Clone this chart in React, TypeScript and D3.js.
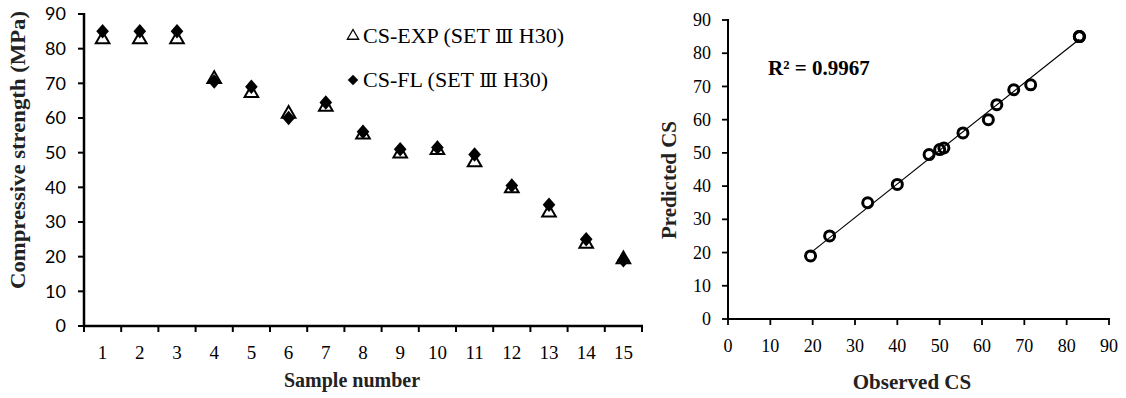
import React from "react";
import * as d3 from "d3";

const samples = [1, 2, 3, 4, 5, 6, 7, 8, 9, 10, 11, 12, 13, 14, 15];
const csExp = [83, 83, 83, 71.5, 67.5, 61.5, 63.5, 55.5, 50, 51, 47.5, 40, 33, 24, 19.5];
const csFl = [85, 85, 85, 70.5, 69, 60, 64.5, 56, 51, 51.5, 49.5, 40.5, 35, 25, 19];
const yTicks = [0, 10, 20, 30, 40, 50, 60, 70, 80, 90];
const xTicksRight = [0, 10, 20, 30, 40, 50, 60, 70, 80, 90];
const r2Label = "R² = 0.9967";
const legendExp = "CS-EXP (SET Ⅲ H30)";
const legendFl = "CS-FL (SET Ⅲ H30)";

const serif = "'Liberation Serif', 'Times New Roman', serif";
const sans = "Lato, 'Liberation Sans', sans-serif";

function Legend({ label, x, y }: { label: string; x: number; y: number }) {
  const parts = label.split("Ⅲ");
  return (
    <text x={x} y={y} fontFamily={serif} fontSize={22} fill="#000">
      {parts[0]}
      <tspan fontFamily="'DejaVu Serif', serif" fontSize={19}>Ⅲ</tspan>
      {parts[1]}
    </text>
  );
}

export default function App() {
  // Left chart
  const lx = d3.scaleBand<number>().domain(samples).range([84, 642]);
  const ly = d3.scaleLinear().domain([0, 90]).range([326, 14]);
  const tri = d3.symbol().type(d3.symbolTriangle).size(80)();
  const dia = d3.symbol().type(d3.symbolSquare).size(80)();

  // Right chart
  const rx = d3.scaleLinear().domain([0, 90]).range([728, 1109]);
  const ry = d3.scaleLinear().domain([0, 90]).range([319, 20]);
  const pts = csExp.map((e, i) => [e, csFl[i]] as [number, number]);
  const mx = d3.mean(pts, (p) => p[0])!;
  const my = d3.mean(pts, (p) => p[1])!;
  const sxy = d3.sum(pts, (p) => (p[0] - mx) * (p[1] - my));
  const sxx = d3.sum(pts, (p) => (p[0] - mx) ** 2);
  const slope = sxy / sxx;
  const icpt = my - slope * mx;
  const [xmin, xmax] = d3.extent(pts, (p) => p[0]) as [number, number];
  const line = d3.line<number>().x((d) => rx(d)).y((d) => ry(slope * d + icpt));

  const bandEdges = [...samples.map((s) => lx(s)!), lx(15)! + lx.bandwidth()];

  return (
    <svg width={1126} height={398} style={{ position: "absolute", left: 0, top: 0, background: "#fff" }}>
      {/* LEFT CHART */}
      <g>
        {yTicks.map((t) => (
          <g key={"ly" + t}>
            <line x1={78} x2={84} y1={ly(t)} y2={ly(t)} stroke="#000" strokeWidth={2} />
            <text x={66} y={ly(t)} dy="0.36em" textAnchor="end" fontFamily={sans} fontSize={18} fill="#000">
              {t}
            </text>
          </g>
        ))}
        {bandEdges.map((x, i) => (
          <line key={"lxt" + i} x1={x} x2={x} y1={326} y2={332} stroke="#000" strokeWidth={2} />
        ))}
        {samples.map((s) => (
          <text key={"lxl" + s} x={lx(s)! + lx.bandwidth() / 2} y={359} textAnchor="middle" fontFamily={serif} fontSize={19} fill="#000">
            {s}
          </text>
        ))}
        <line x1={84} x2={84} y1={13} y2={327} stroke="#000" strokeWidth={2.5} />
        <line x1={83} x2={643} y1={326} y2={326} stroke="#000" strokeWidth={2.5} />
        <text x={352} y={387} textAnchor="middle" fontFamily={serif} fontWeight="bold" fontSize={20} fill="#222">
          Sample number
        </text>
        <text transform="translate(25,150) rotate(-90)" textAnchor="middle" fontFamily={serif} fontWeight="bold" fontSize={21} fill="#222" textLength={278} lengthAdjust="spacingAndGlyphs">
          Compressive strength (MPa)
        </text>
        {samples.map((s, i) => (
          <path key={"tri" + s} d={tri!} transform={`translate(${lx(s)! + lx.bandwidth() / 2},${ly(csExp[i]) + 1})`} fill="#fff" stroke="#000" strokeWidth={2} />
        ))}
        {samples.map((s, i) => (
          <path key={"dia" + s} d={dia!} transform={`translate(${lx(s)! + lx.bandwidth() / 2},${ly(csFl[i])}) scale(1,1.15) rotate(45)`} fill="#000" />
        ))}
        {/* legend */}
        <path d={d3.symbol().type(d3.symbolTriangle).size(55)()!} transform="translate(353,36)" fill="#fff" stroke="#000" strokeWidth={1.3} />
        <Legend label={legendExp} x={363} y={43} />
        <path d={d3.symbol().type(d3.symbolSquare).size(55)()!} transform="translate(353,80) rotate(45)" fill="#000" />
        <Legend label={legendFl} x={363} y={87} />
      </g>

      {/* RIGHT CHART */}
      <g>
        {yTicks.map((t) => (
          <g key={"ry" + t}>
            <line x1={722} x2={728} y1={ry(t)} y2={ry(t)} stroke="#000" strokeWidth={1.8} />
            <text x={711} y={ry(t)} dy="0.34em" textAnchor="end" fontFamily={serif} fontSize={18} fill="#000">
              {t}
            </text>
          </g>
        ))}
        {xTicksRight.map((t) => (
          <g key={"rx" + t}>
            <line x1={rx(t)} x2={rx(t)} y1={319} y2={325} stroke="#000" strokeWidth={1.8} />
            <text x={rx(t)} y={352} textAnchor="middle" fontFamily={serif} fontSize={18} fill="#000">
              {t}
            </text>
          </g>
        ))}
        <line x1={728} x2={728} y1={19} y2={320} stroke="#000" strokeWidth={2} />
        <line x1={727} x2={1110} y1={319} y2={319} stroke="#000" strokeWidth={2} />
        <text x={912} y={389} textAnchor="middle" fontFamily={serif} fontWeight="bold" fontSize={21} fill="#222">
          Observed CS
        </text>
        <text transform="translate(676,180) rotate(-90)" textAnchor="middle" fontFamily={serif} fontWeight="bold" fontSize={21} fill="#222">
          Predicted CS
        </text>
        <path d={line([xmin, xmax])!} stroke="#000" strokeWidth={1.2} fill="none" />
        {pts.map((p, i) => (
          <circle key={"c" + i} cx={rx(p[0])} cy={ry(p[1])} r={5} fill="none" stroke="#000" strokeWidth={3} />
        ))}
        <text x={768} y={75} fontFamily={serif} fontWeight="bold" fontSize={21} fill="#000">
          {r2Label}
        </text>
      </g>
    </svg>
  );
}
